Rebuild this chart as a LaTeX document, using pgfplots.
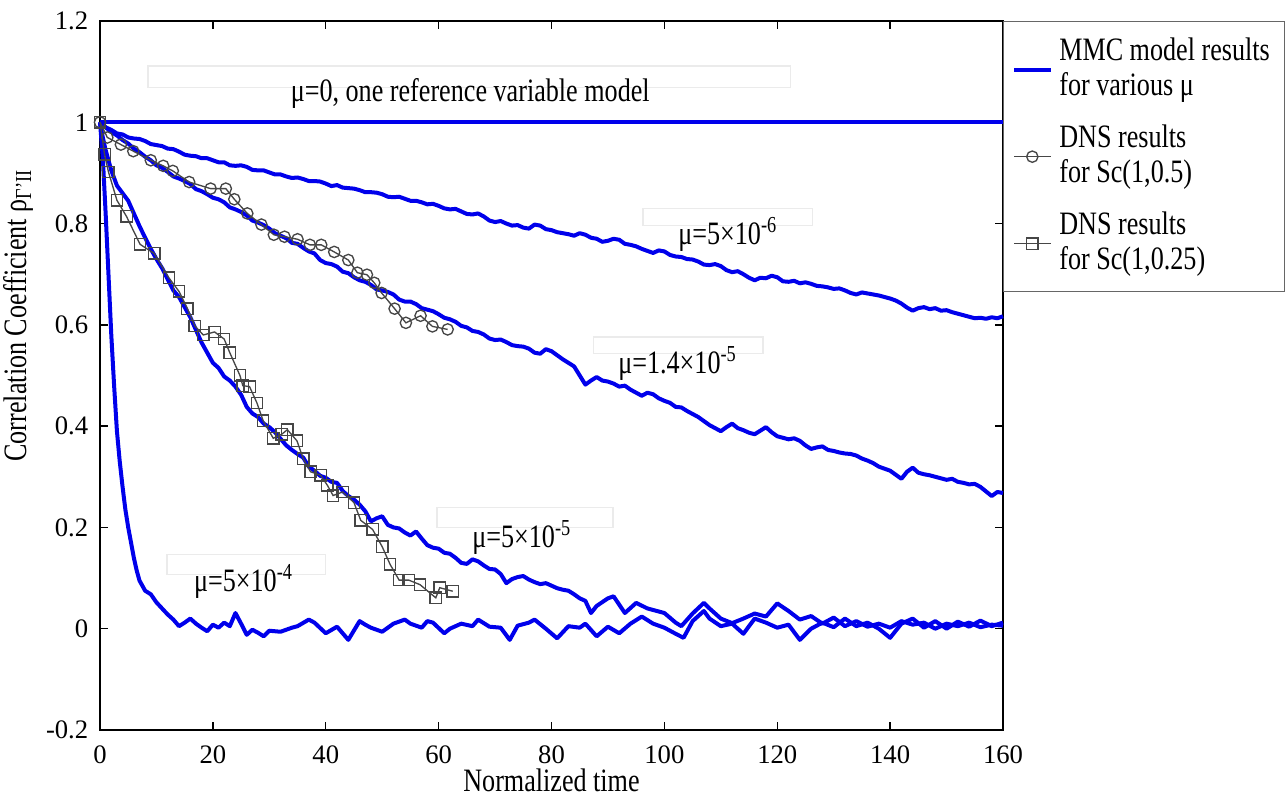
\documentclass[border=0pt]{standalone}
\usepackage{fontspec}
\setmainfont{Liberation Serif}[FakeStretch=0.8]
\newfontfamily\tickfont{Liberation Serif}
\usepackage{pgfplots}
\pgfplotsset{compat=1.18}
\definecolor{mblue}{RGB}{0,0,235}
\definecolor{dns}{RGB}{70,70,70}
\begin{document}
\begin{tikzpicture}[font=\fontsize{9.8}{10.5}\selectfont]
\begin{axis}[
  scale only axis,
  width=270.9pt, height=212.7pt,
  xmin=0, xmax=160, ymin=-0.2, ymax=1.2,
  xtick={0,20,40,60,80,100,120,140,160},
  ytick={-0.2,0,0.2,0.4,0.6,0.8,1,1.2},
  tick align=inside,
  major tick length=2.4pt,
  axis line style={line width=0.4pt},
  every tick/.style={black, line width=0.4pt},
  tick label style={font=\tickfont\fontsize{8}{9}\selectfont},
  xticklabel style={yshift=-1.2pt},
  /pgf/number format/assume math mode=true,
  clip=false,
  xlabel={Normalized time},
  xlabel style={at={(axis description cs:0.5,-0.0705)}, anchor=center},
  ylabel={Correlation Coefficient ρ\textsubscript{Γ'II}},
  ylabel style={at={(axis description cs:-0.0908,0.585)}, anchor=center},
  legend style={at={(rel axis cs:1,1)}, anchor=north west, draw=black!60,
    line width=0.4pt, font=\fontsize{9.8}{10.5}\selectfont,
    row sep=3.3pt, inner xsep=2.5pt, inner ysep=3pt,
    cells={align=left, anchor=west}},
  legend cell align=left,
  legend image code/.code={\draw[mark repeat=2,mark phase=2,#1] plot coordinates {(0pt,0pt) (5.5pt,0pt) (11pt,0pt)};},
]
\coordinate (bl) at (rel axis cs:0,0);
\coordinate (tr) at (rel axis cs:1,1);

\addlegendimage{mblue, line width=1.2pt}
\addlegendentry{MMC model results\\for various μ}
\addlegendimage{dns, line width=0.4pt, mark=o, mark size=1.7pt, mark options={solid, fill=none}}
\addlegendentry{DNS results\\for Sc(1,0.5)}
\addlegendimage{dns, line width=0.4pt, mark=square, mark size=1.7pt, mark options={solid, fill=none}}
\addlegendentry{DNS results\\for Sc(1,0.25)}

% faint annotation boxes
\draw[black!8, line width=0.4pt] (axis cs:8.5,1.069) rectangle (axis cs:122.3,1.111);
\draw[black!8, line width=0.4pt] (axis cs:96.2,0.796) rectangle (axis cs:126.3,0.830);
\draw[black!8, line width=0.4pt] (axis cs:87.4,0.543) rectangle (axis cs:117.5,0.576);
\draw[black!8, line width=0.4pt] (axis cs:59.7,0.200) rectangle (axis cs:90.9,0.240);
\draw[black!8, line width=0.4pt] (axis cs:11.9,0.107) rectangle (axis cs:39.9,0.146);

% mu = 0
\addplot[forget plot, mblue, line width=1.2pt] coordinates {(0,1) (160,1)};

% mu = 5e-6
\addplot[forget plot, mblue, line width=1.2pt, line join=round] coordinates {
(0,1.000) (1,0.990) (2,0.985) (3,0.978) (4,0.976) (5,0.970) (6,0.968) (7,0.967)
(8,0.963) (9,0.957) (10,0.955) (11,0.953) (12,0.948) (13,0.947) (14,0.942)
(15,0.936) (16,0.934) (17,0.933) (18,0.929) (19,0.929) (20,0.925) (21,0.921)
(22,0.921) (23,0.915) (24,0.914) (25,0.915) (26,0.912) (27,0.906) (28,0.905)
(29,0.905) (30,0.901) (31,0.897) (32,0.897) (33,0.893) (34,0.890) (35,0.891)
(36,0.888) (37,0.884) (38,0.884) (39,0.883) (40,0.879) (41,0.874) (42,0.876)
(43,0.871) (44,0.870) (45,0.869) (46,0.866) (47,0.862) (48,0.862) (49,0.861)
(50,0.858) (51,0.853) (52,0.852) (53,0.853) (54,0.849) (55,0.845) (56,0.845)
(57,0.842) (58,0.838) (59,0.839) (60,0.835) (61,0.830) (62,0.828) (63,0.829)
(64,0.824) (65,0.819) (66,0.818) (67,0.820) (68,0.814) (69,0.806) (70,0.803)
(71,0.805) (72,0.800) (73,0.796) (74,0.797) (75,0.792) (76,0.790) (77,0.798)
(78,0.796) (79,0.789) (80,0.787) (81,0.783) (82,0.781) (83,0.779) (84,0.776)
(85,0.781) (86,0.778) (87,0.772) (88,0.770) (89,0.764) (90,0.766) (91,0.770)
(92,0.768) (93,0.760) (94,0.758) (95,0.755) (96,0.750) (97,0.746) (98,0.742)
(99,0.747) (100,0.745) (101,0.738) (102,0.735) (103,0.734) (104,0.730)
(105,0.729) (106,0.725) (107,0.719) (108,0.718) (109,0.720) (110,0.716)
(111,0.708) (112,0.704) (113,0.706) (114,0.700) (115,0.693) (116,0.688)
(117,0.693) (118,0.692) (119,0.697) (120,0.694) (121,0.686) (122,0.685)
(123,0.687) (124,0.682) (125,0.684) (126,0.681) (127,0.677) (128,0.676)
(129,0.674) (130,0.671) (131,0.672) (132,0.668) (133,0.663) (134,0.660)
(135,0.664) (136,0.662) (137,0.660) (138,0.658) (139,0.655) (140,0.652)
(141,0.648) (142,0.642) (143,0.634) (144,0.628) (145,0.633) (146,0.635)
(147,0.631) (148,0.633) (149,0.628) (150,0.629) (151,0.625) (152,0.622)
(153,0.619) (154,0.616) (155,0.613) (156,0.614) (157,0.612) (158,0.615)
(159,0.613) (160,0.617)
};

% mu = 1.4e-5
\addplot[forget plot, mblue, line width=1.2pt, line join=round] coordinates {
(0,1.000) (1,0.990) (2,0.981) (3,0.974) (4,0.965) (5,0.958) (6,0.948) (7,0.941)
(8,0.932) (9,0.925) (10,0.915) (11,0.910) (12,0.902) (13,0.893) (14,0.889)
(15,0.884) (16,0.878) (17,0.868) (18,0.864) (19,0.858) (20,0.851) (21,0.848)
(22,0.842) (23,0.832) (24,0.828) (25,0.823) (26,0.816) (27,0.806) (28,0.802)
(29,0.797) (30,0.790) (31,0.781) (32,0.776) (33,0.771) (34,0.762) (35,0.760)
(36,0.752) (37,0.745) (38,0.741) (39,0.728) (40,0.722) (41,0.720) (42,0.715)
(43,0.705) (44,0.702) (45,0.694) (46,0.688) (47,0.685) (48,0.679) (49,0.670)
(50,0.668) (51,0.665) (52,0.660) (53,0.650) (54,0.646) (55,0.646) (56,0.641)
(57,0.633) (58,0.630) (59,0.627) (60,0.621) (61,0.614) (62,0.611) (63,0.606)
(64,0.598) (65,0.595) (66,0.588) (67,0.586) (68,0.581) (69,0.573) (70,0.570)
(71,0.571) (72,0.566) (73,0.560) (74,0.558) (75,0.557) (76,0.553) (77,0.545)
(78,0.543) (79,0.552) (80,0.548) (81,0.540) (82,0.532) (83,0.525) (84,0.518)
(85,0.500) (86,0.482) (87,0.490) (88,0.497) (89,0.490) (90,0.488) (91,0.484)
(92,0.478) (93,0.480) (94,0.472) (95,0.466) (96,0.460) (97,0.466) (98,0.463)
(99,0.455) (100,0.450) (101,0.446) (102,0.438) (103,0.437) (104,0.430)
(105,0.424) (106,0.418) (107,0.410) (108,0.402) (109,0.396) (110,0.390)
(111,0.398) (112,0.405) (113,0.396) (114,0.392) (115,0.387) (116,0.384)
(117,0.391) (118,0.398) (119,0.388) (120,0.380) (121,0.377) (122,0.374)
(123,0.376) (124,0.371) (125,0.362) (126,0.355) (127,0.358) (128,0.360)
(129,0.353) (130,0.351) (131,0.348) (132,0.346) (133,0.345) (134,0.342)
(135,0.336) (136,0.332) (137,0.327) (138,0.320) (139,0.316) (140,0.312)
(141,0.304) (142,0.296) (143,0.310) (144,0.318) (145,0.308) (146,0.305)
(147,0.303) (148,0.300) (149,0.297) (150,0.294) (151,0.296) (152,0.290)
(153,0.288) (154,0.285) (155,0.286) (156,0.280) (157,0.271) (158,0.262)
(159,0.270) (160,0.268)
};

% mu = 5e-5
\addplot[forget plot, mblue, line width=1.2pt, line join=round] coordinates {
(0,1.000) (0.5,0.970) (1,0.945) (2,0.905) (3,0.875) (4,0.860) (5,0.845) (6,0.820)
(7,0.795) (8,0.772) (9,0.750) (10,0.730) (11,0.712) (12,0.690) (13,0.668)
(14,0.655) (15,0.635) (16,0.615) (17,0.590) (18,0.565) (19,0.545) (20,0.525)
(21,0.515) (22,0.498) (23,0.490) (24,0.478) (25,0.462) (26,0.438) (27,0.425)
(28,0.418) (29,0.405) (30,0.398) (31,0.388) (32,0.375) (33,0.362) (34,0.353)
(35,0.345) (36,0.338) (37,0.320) (38,0.312) (39,0.302) (40,0.298) (41,0.290)
(42,0.288) (43,0.272) (44,0.262) (45,0.255) (46,0.245) (47,0.232) (48,0.212)
(49,0.218) (50,0.222) (51,0.205) (52,0.200) (53,0.198) (54,0.190) (55,0.184)
(56,0.192) (57,0.178) (58,0.165) (59,0.160) (60,0.158) (61,0.150) (62,0.148)
(63,0.140) (64,0.130) (65,0.128) (66,0.137) (67,0.133) (68,0.125) (69,0.118)
(70,0.117) (71,0.108) (72,0.090) (73,0.098) (74,0.102) (75,0.104) (76,0.097)
(77,0.092) (78,0.088) (79,0.090) (80,0.085) (81,0.080) (82,0.077) (83,0.075)
(84,0.068) (85,0.060) (86,0.055) (87,0.031) (88,0.045) (90,0.060) (91,0.064)
(93,0.031) (95,0.051) (97,0.040) (100,0.031) (102,0.012) (103,0.005) (105,0.030)
(107,0.051) (108,0.040) (110,0.020) (112,0.011) (114,0.020) (116,0.030)
(118,0.024) (120,0.050) (122,0.035) (124,0.018) (126,0.025) (128,0.010)
(130,0.022) (132,0.005) (134,0.015) (136,0.004) (138,0.010) (140,0.002)
(142,0.015) (144,0.008) (146,0.012) (148,0.000) (150,0.010) (152,0.005)
(154,0.012) (156,0.003) (158,0.008) (160,0.006)
};

% mu = 5e-4
\addplot[forget plot, mblue, line width=1.2pt, line join=round] coordinates {
(0,1.000) (0.5,0.930) (1,0.820) (1.5,0.700) (2,0.580) (2.5,0.480) (3,0.390)
(3.5,0.330) (4,0.280) (4.5,0.235) (5,0.200) (5.5,0.170) (6,0.140) (6.5,0.115)
(7,0.095) (8,0.075) (9,0.068) (10,0.052) (11,0.040) (12,0.028) (13,0.018)
(14,0.005) (15,0.012) (16,0.020) (17,0.010) (18,0.002) (19,-0.005) (20,0.008)
(21,0.002) (22,0.012) (23,0.005) (24,0.031) (25,0.010) (26,-0.012) (27,-0.002)
(28,-0.008) (29,-0.015) (30,-0.004) (32,-0.006) (34,0.002) (35,0.005) (37,0.018)
(38,0.012) (40,-0.009) (42,0.004) (44,-0.022) (46,0.015) (47,0.008) (48,0.002)
(50,-0.006) (52,0.010) (54,0.018) (55,0.010) (57,0.002) (58,0.015) (59,0.012)
(61,-0.009) (62,0.000) (64,0.010) (66,0.005) (67,0.018) (69,0.004) (71,0.002)
(72.6,-0.022) (74,0.006) (76,0.012) (77,0.018) (79,0.000) (81,-0.019) (83,0.005)
(85,0.002) (86,0.010) (88,-0.015) (90,0.004) (92,-0.009) (94,0.010) (96,0.024)
(98,0.010) (100,0.002) (102,-0.010) (103.4,-0.018) (105,0.015) (107,0.035)
(108,0.020) (110,0.005) (112,0.010) (114,-0.010) (116,0.020) (118,0.012)
(120,0.002) (122,0.008) (124,-0.022) (126,0.000) (128,0.012) (130,0.003)
(132,0.020) (134,0.005) (136,0.012) (138,0.000) (140,-0.018) (142,0.010)
(144,0.020) (146,0.002) (148,0.015) (150,0.000) (152,0.014) (154,0.004)
(156,0.016) (158,0.005) (160,0.012)
};

% DNS Sc(1,0.5)
\addplot[forget plot, dns, line width=0.4pt, mark=o, mark size=1.7pt, mark options={solid, fill=none}] coordinates {
(0,1.000) (1.3,0.970) (3.7,0.956) (5.9,0.943) (9.0,0.925) (11.2,0.914)
(12.9,0.904) (15.8,0.882) (19.6,0.869) (22.3,0.869) (23.8,0.848) (26.1,0.820)
(28.6,0.798) (30.8,0.778) (32.7,0.774) (35.0,0.769) (37.2,0.758) (39.2,0.758)
(41.5,0.744) (44.0,0.728) (45.6,0.703) (47.3,0.699) (48.6,0.683) (49.9,0.663)
(52.2,0.632) (54.2,0.604) (56.8,0.618) (58.9,0.597) (61.6,0.591)
};

% DNS Sc(1,0.25)
\addplot[forget plot, dns, line width=0.4pt, mark=square, mark size=1.7pt, mark options={solid, fill=none}] coordinates {
(0,1.000) (0.8,0.937) (1.5,0.902) (3.0,0.846) (4.7,0.814) (7.1,0.759)
(9.6,0.741) (12.2,0.693) (14.0,0.666) (15.5,0.632) (16.8,0.598) (18.3,0.580)
(20.3,0.586) (22.0,0.572) (23.0,0.545) (24.8,0.500) (25.3,0.480) (26.5,0.478)
(27.8,0.446) (28.9,0.411) (30.7,0.376) (32.2,0.384) (33.2,0.393) (34.9,0.371)
(36.0,0.336) (37.3,0.310) (39.1,0.303) (40.3,0.283) (41.3,0.263) (43.0,0.270)
(45.0,0.249) (46.2,0.214) (48.3,0.196) (50.0,0.162) (51.4,0.127) (53.0,0.096)
(54.7,0.096) (56.7,0.087) (59.5,0.061) (60.2,0.081) (62.5,0.074)
};

% annotations
\node at (axis cs:65.6,1.057) {μ=0, one reference variable model};
\node at (axis cs:111.3,0.778) {μ=5×10\textsuperscript{-6}};
\node at (axis cs:102.4,0.523) {μ=1.4×10\textsuperscript{-5}};
\node at (axis cs:74.8,0.180) {μ=5×10\textsuperscript{-5}};
\node at (axis cs:25.5,0.093) {μ=5×10\textsuperscript{-4}};
\end{axis}
\pgfresetboundingbox
\path[use as bounding box] ([shift={(-30pt,-19.2pt)}]bl) rectangle ([shift={(84.6pt,6.3pt)}]tr);
\end{tikzpicture}
\end{document}
